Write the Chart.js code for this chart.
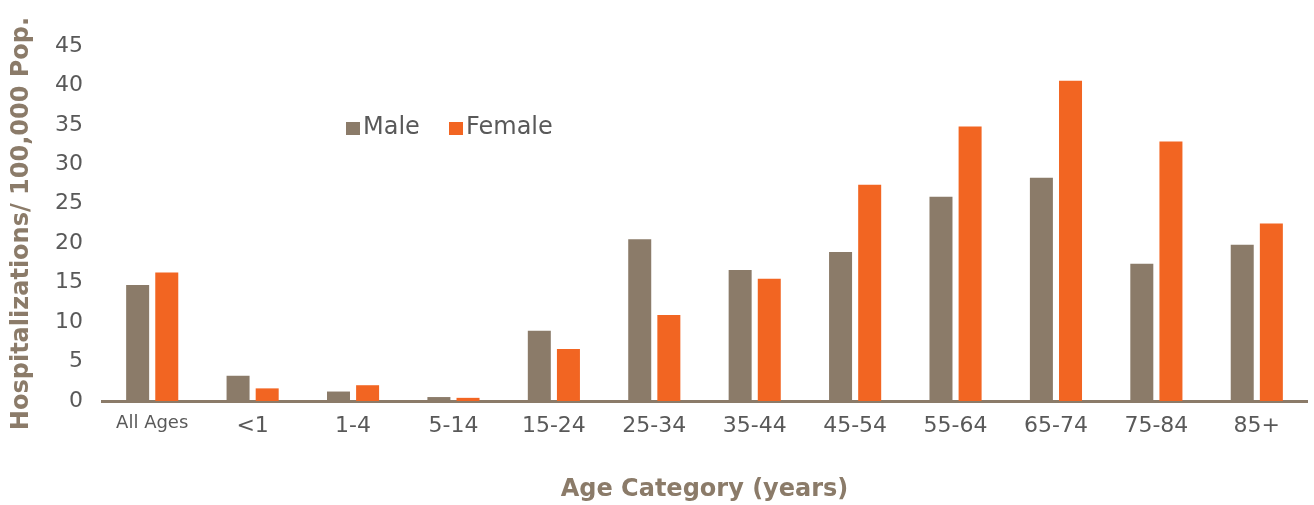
<!DOCTYPE html>
<html>
<head>
<meta charset="utf-8">
<script src="https://cdn.jsdelivr.net/npm/chart.js@4/dist/chart.umd.min.js"></script>
<style>
  html, body { margin: 0; padding: 0; background: #ffffff; }
  #wrap { width: 1314px; height: 505px; position: relative; }
</style>
</head>
<body>
<div id="wrap"><canvas id="c" width="1314" height="505"></canvas></div>
<script>
const categories = ["All Ages", "<1", "1-4", "5-14", "15-24", "25-34", "35-44", "45-54", "55-64", "65-74", "75-84", "85+"];
const maleValues = [14.7, 3.2, 1.2, 0.5, 8.9, 20.5, 16.6, 18.9, 25.9, 28.3, 17.4, 19.8];
const femaleValues = [16.3, 1.6, 2.0, 0.4, 6.6, 10.9, 15.5, 27.4, 34.8, 40.6, 32.9, 22.5];
const seriesNames = ["Male", "Female"];
const yTicks = [0, 5, 10, 15, 20, 25, 30, 35, 40, 45];
const yTitle = "Hospitalizations/ 100,000 Pop.";
const xTitle = "Age Category (years)";

const BROWN = "#8B7B69";
const ORANGE = "#F26522";
const TEXT = "#595959";
const FONT = "'DejaVu Sans', sans-serif";

const legendPlugin = {
  id: "customLegend",
  afterDraw(chart) {
    const ctx = chart.ctx;
    ctx.save();
    ctx.font = "24px " + FONT;
    ctx.textBaseline = "middle";
    ctx.textAlign = "left";
    const starts = [346, 449];
    const y = 128;
    chart.data.datasets.forEach((ds, i) => {
      const x = starts[i];
      ctx.fillStyle = ds.backgroundColor;
      ctx.fillRect(x, y - 6, 14, 13);
      ctx.fillStyle = TEXT;
      ctx.fillText(ds.label, x + 17, y);
    });
    ctx.restore();
  }
};

new Chart(document.getElementById("c"), {
  type: "bar",
  data: {
    labels: categories,
    datasets: [
      { label: seriesNames[0], data: maleValues, backgroundColor: BROWN },
      { label: seriesNames[1], data: femaleValues, backgroundColor: ORANGE }
    ]
  },
  options: {
    responsive: false,
    animation: false,
    devicePixelRatio: 1,
    layout: { padding: { top: 46, right: 7, left: 0, bottom: 0 } },
    datasets: { bar: { categoryPercentage: 0.58, barPercentage: 0.79 } },
    plugins: { legend: { display: false }, tooltip: { enabled: false } },
    scales: {
      x: {
        grid: { display: false, drawTicks: false },
        border: { display: true, color: BROWN, width: 3 },
        ticks: {
          color: TEXT,
          padding: 12,
          maxRotation: 0,
          autoSkip: false,
          font: (ctx) => ({ family: FONT, size: ctx.index === 0 ? 18 : 22 })
        },
        title: {
          display: true,
          text: xTitle,
          color: BROWN,
          font: { family: FONT, size: 24, weight: "bold" },
          padding: { top: 0, bottom: 1 }
        },
        afterFit: (s) => { s.height = 104; }
      },
      y: {
        min: 0,
        max: 45,
        grid: { display: false, drawTicks: false },
        border: { display: false },
        afterBuildTicks: (s) => { s.ticks = yTicks.map(v => ({ value: v })); },
        ticks: {
          color: TEXT,
          padding: 19,
          font: { family: FONT, size: 22 }
        },
        title: {
          display: true,
          text: yTitle,
          color: BROWN,
          font: { family: FONT, size: 24, weight: "bold" },
          padding: { top: 7, bottom: 0 }
        },
        afterFit: (s) => { s.width = 102; }
      }
    }
  },
  plugins: [legendPlugin]
});
</script>
</body>
</html>
